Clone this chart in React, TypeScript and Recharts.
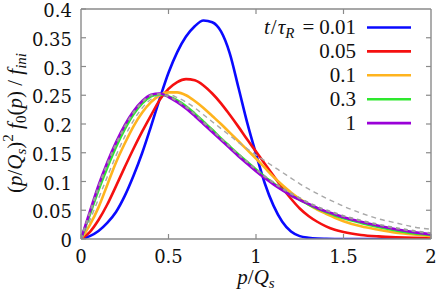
import React from 'react';
import { LineChart, Line, XAxis, YAxis, Legend } from 'recharts';

// p/Qs sample points
const pGrid = [
  0, 0.05, 0.1, 0.15, 0.2, 0.25, 0.3, 0.35, 0.4, 0.45, 0.5, 0.55, 0.6, 0.65, 0.7, 0.75,
  0.8, 0.85, 0.9, 0.95, 1, 1.05, 1.1, 1.15, 1.2, 1.25, 1.3, 1.35, 1.4, 1.45, 1.5,
  1.6, 1.7, 1.8, 1.9, 2,
];

// (p/Qs)^2 f0(p) / f_ini for each t/tauR
const t001 = [
  0, 0.005, 0.014, 0.028, 0.047, 0.075, 0.11, 0.15, 0.196, 0.244, 0.289, 0.325, 0.352, 0.37, 0.38, 0.377,
  0.361, 0.323, 0.263, 0.202, 0.148, 0.097, 0.058, 0.03, 0.013, 0.005, 0.002, 0.0006, 0.0002, 0, 0,
  0, 0, 0, 0, 0,
];
const t005 = [
  0, 0.012, 0.033, 0.06, 0.092, 0.125, 0.157, 0.187, 0.215, 0.242, 0.261, 0.273, 0.278, 0.276, 0.267, 0.253,
  0.236, 0.216, 0.195, 0.173, 0.152, 0.131, 0.11, 0.089, 0.07, 0.053, 0.04, 0.03, 0.022, 0.016, 0.012,
  0.007, 0.0045, 0.003, 0.002, 0.0015,
];
const t01 = [
  0, 0.024, 0.055, 0.094, 0.133, 0.166, 0.196, 0.22, 0.238, 0.25, 0.255, 0.255, 0.25, 0.24, 0.228, 0.214,
  0.2, 0.185, 0.17, 0.155, 0.14, 0.124, 0.108, 0.094, 0.081, 0.07, 0.06, 0.051, 0.044, 0.037, 0.031,
  0.022, 0.016, 0.011, 0.008, 0.005,
];
const t03 = [
  0, 0.042, 0.085, 0.124, 0.16, 0.191, 0.217, 0.236, 0.248, 0.252, 0.248, 0.241, 0.231, 0.218, 0.204, 0.19,
  0.175, 0.161, 0.147, 0.134, 0.121, 0.108, 0.097, 0.086, 0.076, 0.068, 0.06, 0.053, 0.047, 0.041, 0.036,
  0.028, 0.021, 0.015, 0.01, 0.007,
];
const t1 = [
  0, 0.047, 0.093, 0.133, 0.168, 0.198, 0.222, 0.24, 0.251, 0.253, 0.247, 0.238, 0.227, 0.214, 0.2, 0.186,
  0.172, 0.158, 0.144, 0.131, 0.118, 0.106, 0.095, 0.085, 0.076, 0.068, 0.061, 0.054, 0.048, 0.043, 0.038,
  0.03, 0.023, 0.017, 0.012, 0.008,
];
// grey dashed reference curves
const refA = [
  0, 0.045, 0.09, 0.13, 0.165, 0.195, 0.22, 0.238, 0.25, 0.252, 0.248, 0.24, 0.23, 0.217, 0.203, 0.189,
  0.175, 0.161, 0.147, 0.134, 0.121, 0.109, 0.098, 0.088, 0.079, 0.071, 0.063, 0.056, 0.05, 0.045, 0.04,
  0.032, 0.025, 0.019, 0.014, 0.01,
];
const refB = [
  0, 0.032, 0.07, 0.108, 0.145, 0.178, 0.206, 0.228, 0.243, 0.25, 0.251, 0.246, 0.238, 0.228, 0.216, 0.204,
  0.192, 0.18, 0.168, 0.157, 0.146, 0.136, 0.126, 0.116, 0.106, 0.096, 0.087, 0.079, 0.071, 0.064, 0.057,
  0.045, 0.035, 0.028, 0.021, 0.017,
];

const xTicks = [0, 0.5, 1, 1.5, 2];
const yTicks = [0, 0.05, 0.1, 0.15, 0.2, 0.25, 0.3, 0.35, 0.4];
const topTicks = [0.5, 1, 1.5];
const rightTicks = [0.05, 0.1, 0.15, 0.2, 0.25, 0.3, 0.35];
const legendLabels = ['0.01', '0.05', '0.1', '0.3', '1'];
const colors = ['#0a0aff', '#f51010', '#ffb41e', '#2ee82e', '#9a00d8'];

const data = pGrid.map((p, i) => ({
  p,
  t001: t001[i],
  t005: t005[i],
  t01: t01[i],
  t03: t03[i],
  t1: t1[i],
  refA: refA[i],
  refB: refB[i],
}));

const tickTxt = { fontFamily: 'DejaVu Serif', fontSize: 18, fill: '#111' };
const txt = { fontFamily: 'Liberation Serif, serif', fontSize: 21, fill: '#111' };
const AXIS = '#8a8a8a';
const TICK_LEN = 5;

const BottomTick = (props: any) => {
  const { x, y, payload } = props;
  return (
    <g>
      <line x1={x} y1={y} x2={x} y2={y - TICK_LEN} stroke={AXIS} strokeWidth={1.2} />
      <text x={x} y={y + 24} textAnchor="middle" style={tickTxt}>
        {payload.value}
      </text>
    </g>
  );
};

const LeftTick = (props: any) => {
  const { x, y, payload } = props;
  return (
    <g>
      <line x1={x} y1={y} x2={x + TICK_LEN} y2={y} stroke={AXIS} strokeWidth={1.2} />
      <text x={x - 9} y={y + 8} textAnchor="end" style={tickTxt}>
        {payload.value}
      </text>
    </g>
  );
};

const TopTick = (props: any) => {
  const { x, y } = props;
  return <line x1={x} y1={y} x2={x} y2={y + TICK_LEN} stroke={AXIS} strokeWidth={1.2} />;
};

const RightTick = (props: any) => {
  const { x, y } = props;
  return <line x1={x} y1={y} x2={x - TICK_LEN} y2={y} stroke={AXIS} strokeWidth={1.2} />;
};

const YTitle = () => (
  <text transform="translate(22,123) rotate(-90)" textAnchor="middle" style={txt}>
    <tspan>(</tspan>
    <tspan fontStyle="italic">p</tspan>
    <tspan>/</tspan>
    <tspan fontStyle="italic">Q</tspan>
    <tspan fontStyle="italic" fontSize={15} dy={4}>s</tspan>
    <tspan dy={-4}>)</tspan>
    <tspan fontSize={15} dy={-9}>2</tspan>
    <tspan dy={9}> </tspan>
    <tspan fontStyle="italic">f</tspan>
    <tspan fontSize={15} dy={4}>0</tspan>
    <tspan dy={-4}>(</tspan>
    <tspan fontStyle="italic">p</tspan>
    <tspan>) / </tspan>
    <tspan fontStyle="italic">f</tspan>
    <tspan fontStyle="italic" fontSize={15} dy={4}>ini</tspan>
  </text>
);

const XTitle = () => (
  <text x={256} y={284} textAnchor="middle" style={txt}>
    <tspan fontStyle="italic">p</tspan>
    <tspan>/</tspan>
    <tspan fontStyle="italic">Q</tspan>
    <tspan fontStyle="italic" fontSize={15} dy={4}>s</tspan>
  </text>
);

const LegendBox = () => (
  <svg width={436} height={150} style={{ display: 'block' }}>
    {legendLabels.map((lab, i) => {
      const base = 34 + i * 23.9;
      return (
        <g key={lab}>
          <text x={356} y={base} textAnchor="end" style={txt}>
            {i === 0 && (
              <>
                <tspan fontStyle="italic">t</tspan>
                <tspan dx={1}>/</tspan>
                <tspan fontStyle="italic" dx={1}>τ</tspan>
                <tspan fontStyle="italic" fontSize={15} dy={4}>R</tspan>
                <tspan dy={-4} dx={8}>=</tspan>
              </>
            )}
            <tspan dx={i === 0 ? 5 : 0}>{lab}</tspan>
          </text>
          <line x1={367} y1={base - 6.5} x2={411} y2={base - 6.5} stroke={colors[i]} strokeWidth={2.6} />
        </g>
      );
    })}
  </svg>
);

export default function App() {
  return (
    <div style={{ position: 'absolute', left: 0, top: 0, background: '#fff' }}>
      <LineChart width={436} height={293} data={data} margin={{ top: 8, right: 4, bottom: 53, left: 80 }}>
        <XAxis
          dataKey="p"
          type="number"
          domain={[0, 2]}
          allowDataOverflow
          ticks={xTicks}
          interval={0}
          height={1}
          tickSize={0}
          tickMargin={0}
          tickLine={false}
          axisLine={{ stroke: AXIS, strokeWidth: 1.4 }}
          tick={<BottomTick />}
          label={<XTitle />}
        />
        <XAxis
          xAxisId="top"
          dataKey="p"
          orientation="top"
          type="number"
          domain={[0, 2]}
          allowDataOverflow
          ticks={topTicks}
          interval={0}
          height={1}
          tickSize={0}
          tickMargin={0}
          tickLine={false}
          axisLine={{ stroke: AXIS, strokeWidth: 1.4 }}
          tick={<TopTick />}
        />
        <YAxis
          type="number"
          domain={[0, 0.4]}
          allowDataOverflow
          ticks={yTicks}
          interval={0}
          width={1}
          tickSize={0}
          tickMargin={0}
          tickLine={false}
          axisLine={{ stroke: AXIS, strokeWidth: 1.4 }}
          tick={<LeftTick />}
          label={<YTitle />}
        />
        <YAxis
          yAxisId="right"
          orientation="right"
          type="number"
          domain={[0, 0.4]}
          allowDataOverflow
          ticks={rightTicks}
          interval={0}
          width={1}
          tickSize={0}
          tickMargin={0}
          tickLine={false}
          axisLine={{ stroke: AXIS, strokeWidth: 1.4 }}
          tick={<RightTick />}
        />
        <Legend
          layout="horizontal"
          align="center"
          verticalAlign="middle"
          wrapperStyle={{ left: 0, top: 0, width: 436, height: 150, pointerEvents: 'none' }}
          content={<LegendBox />}
        />
        <Line dataKey="t001" type="monotone" stroke={colors[0]} strokeWidth={2.6} dot={false} activeDot={false} isAnimationActive={false} />
        <Line dataKey="t005" type="monotone" stroke={colors[1]} strokeWidth={2.6} dot={false} activeDot={false} isAnimationActive={false} />
        <Line dataKey="t01" type="monotone" stroke={colors[2]} strokeWidth={2.6} dot={false} activeDot={false} isAnimationActive={false} />
        <Line dataKey="refB" type="monotone" stroke="#a8a8a8" strokeWidth={1.4} strokeDasharray="5 4" dot={false} activeDot={false} isAnimationActive={false} />
        <Line dataKey="t03" type="monotone" stroke={colors[3]} strokeWidth={2.6} dot={false} activeDot={false} isAnimationActive={false} />
        <Line dataKey="t1" type="monotone" stroke={colors[4]} strokeWidth={2.6} dot={false} activeDot={false} isAnimationActive={false} />
        <Line dataKey="refA" type="monotone" stroke="#9a9a9a" strokeWidth={2.2} strokeDasharray="4 4" dot={false} activeDot={false} isAnimationActive={false} />
      </LineChart>
    </div>
  );
}
